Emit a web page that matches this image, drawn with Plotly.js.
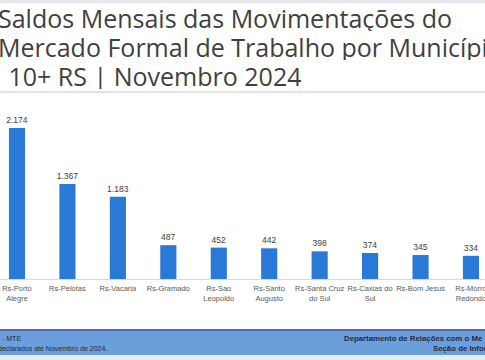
<!DOCTYPE html>
<html>
<head>
<meta charset="utf-8">
<script src="https://cdn.plot.ly/plotly-3.0.1.min.js"></script>
<style>html,body{margin:0;padding:0;background:#fff;}#chart{width:485px;height:360px;}</style>
</head>
<body>
<div id="chart"></div>
<script>
const categories = [
  "Rs-Porto<br>Alegre", "Rs-Pelotas", "Rs-Vacaria", "Rs-Gramado", "Rs-Sao<br>Leopoldo",
  "Rs-Santo<br>Augusto", "Rs-Santa Cruz<br>do Sul", "Rs-Caxias do<br>Sul", "Rs-Bom Jesus", "Rs-Morro<br>Redondo"
];
const saldos = [2174, 1367, 1183, 487, 452, 442, 398, 374, 345, 334];
const titleLines = ["Saldos Mensais das Movimentações do", "Mercado Formal de Trabalho por Município", " 10+ RS | Novembro 2024"];
const footerLeft = ["- MTE", "declarados até Novembro de 2024."];
const footerRight = ["Departamento de Relações com o Me", "Seção de Infor"];

const W = 485, H = 360;
const px = x => x / W;
const py = y => 1 - y / H;

const trace = {
  type: "bar",
  x: categories,
  y: saldos,
  marker: {color: "#2a79d6"},
  width: 0.32,
  texttemplate: "%{y:,}",
  textposition: "outside",
  constraintext: "none",
  cliponaxis: false,
  textfont: {family: "Liberation Sans, Arial, sans-serif", size: 8.5, color: "#404040"},
  hoverinfo: "skip"
};

const annotations = [];
const titleY = [17, 46, 75];
const titleX = [-4, -4, 0];
titleLines.forEach((t, i) => annotations.push({
  text: t, xref: "paper", yref: "paper", x: px(titleX[i]), y: py(titleY[i]),
  xanchor: "left", yanchor: "middle", showarrow: false, height: 27, valign: "middle",
  font: {family: "Open Sans, sans-serif", size: 25, color: "#3f3f3f"}
}));
footerLeft.forEach((t, i) => annotations.push({
  text: t, xref: "paper", yref: "paper", x: px(i === 0 ? 0 : -4), y: py(338 + i * 10),
  xanchor: "left", yanchor: "middle", showarrow: false,
  font: {family: "Liberation Sans, Arial, sans-serif", size: 7, color: "#1f2a44"}
}));
footerRight.forEach((t, i) => annotations.push({
  text: "<b>" + t + "</b>", xref: "paper", yref: "paper", x: px(i === 0 ? 342 : 431), y: py(338 + i * 10),
  xanchor: "left", yanchor: "middle", showarrow: false,
  font: {family: "Liberation Sans, Arial, sans-serif", size: 7.8, color: "#1f2a44"}
}));

const shapes = [
  {type: "rect", xref: "paper", yref: "paper", x0: 0, x1: 1, y0: py(0), y1: py(3), fillcolor: "#e6e8ee", line: {width: 0}, layer: "below"},
  {type: "line", xref: "paper", yref: "paper", x0: 0, x1: 1, y0: py(92), y1: py(92), line: {color: "#c8c8c8", width: 1}},
  {type: "rect", xref: "paper", yref: "paper", x0: 0, x1: 1, y0: py(331), y1: py(355), fillcolor: "#6b9fdb", line: {width: 0}, layer: "below"},
  {type: "rect", xref: "paper", yref: "paper", x0: 0, x1: 1, y0: py(329), y1: py(331), fillcolor: "#4a6dbd", line: {width: 0}, layer: "below"},
  {type: "rect", xref: "paper", yref: "paper", x0: 0, x1: 1, y0: py(355), y1: py(360), fillcolor: "#e8ebf0", line: {width: 0}, layer: "below"}
];

const layout = {
  width: W, height: H,
  margin: {l: 0, r: 0, t: 0, b: 0},
  paper_bgcolor: "#ffffff", plot_bgcolor: "#ffffff",
  separators: ",.",
  showlegend: false,
  xaxis: {
    domain: [0, 1],
    range: [-0.337, 9.278],
    showline: true, linecolor: "#d9d9d9", linewidth: 1,
    ticks: "", showgrid: false, zeroline: false,
    tickfont: {family: "Liberation Sans, Arial, sans-serif", size: 7.5, color: "#595959"},
    ticklabelstandoff: 2,
    tickangle: 0
  },
  yaxis: {
    domain: [py(279), py(100)],
    range: [0, 2577],
    visible: false, showgrid: false, zeroline: false
  },
  annotations: annotations,
  shapes: shapes
};

Plotly.newPlot("chart", [trace], layout, {displayModeBar: false, staticPlot: true});
</script>
</body>
</html>
